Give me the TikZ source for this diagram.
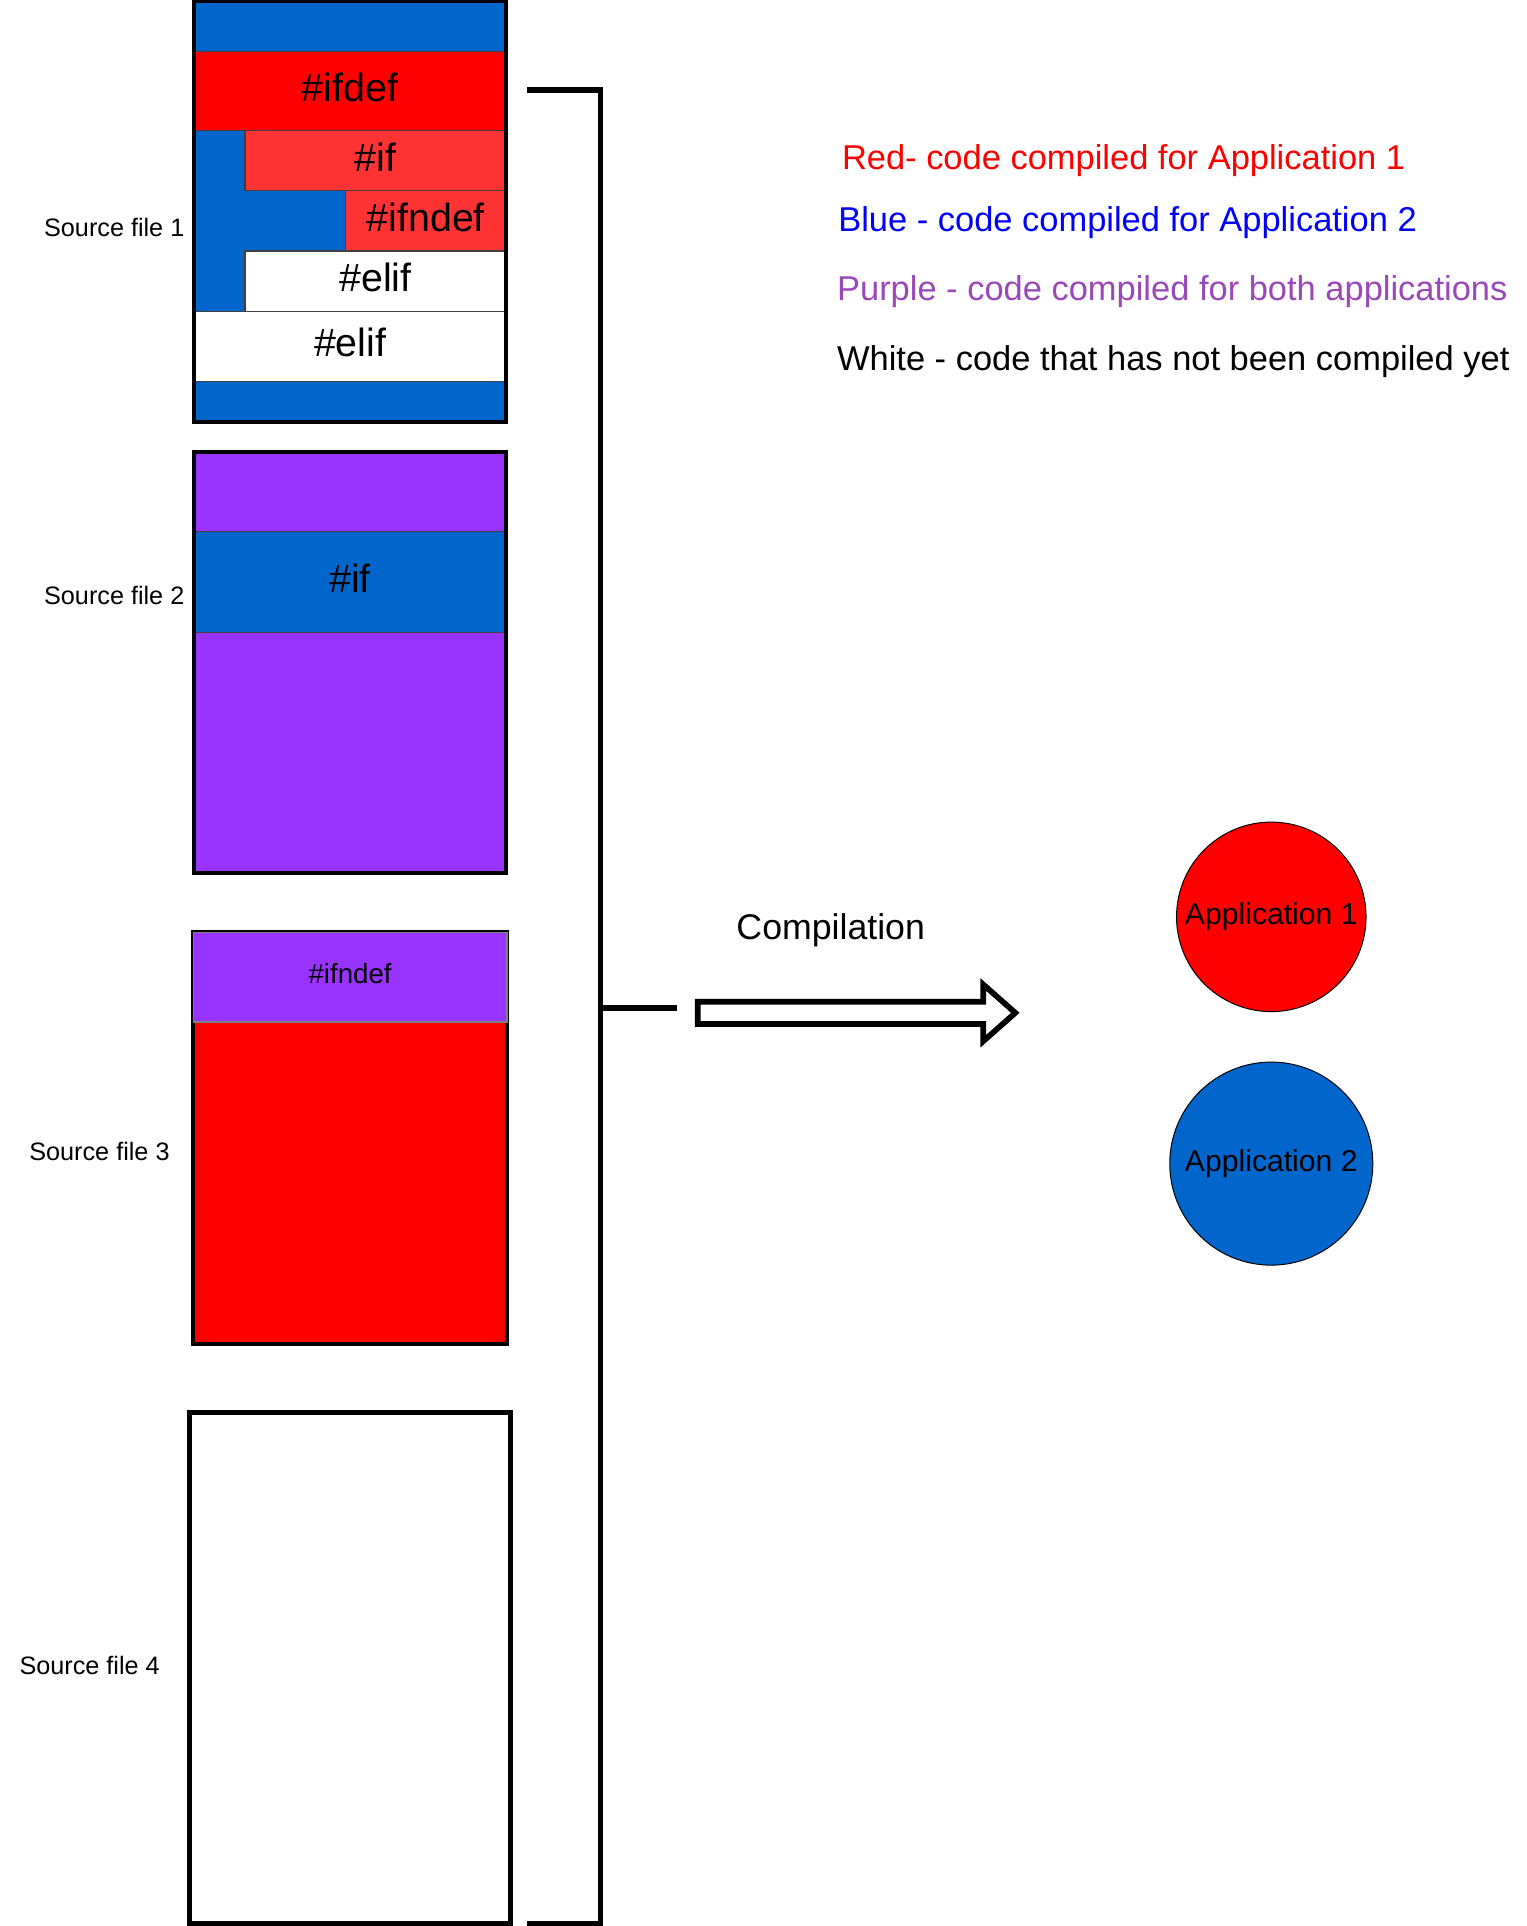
\documentclass[tikz,border=0pt]{standalone}
\usepackage{fontspec}
\setmainfont{Liberation Sans}
\newcommand\fsz[1]{\fontsize{#1}{#1}\selectfont}
\definecolor{cblue}{HTML}{0066CC}
\definecolor{cred}{HTML}{FF0000}
\definecolor{clred}{HTML}{FF3333}
\definecolor{cpurple}{HTML}{9933FF}
\definecolor{tpurple}{HTML}{9A48B8}
\definecolor{tblue}{HTML}{0000FF}
\begin{document}
\begin{tikzpicture}[x=1pt,y=-1pt,
  seg/.style={draw=black!75,line width=1pt,inner sep=0pt,outer sep=0pt},
  filebox/.style={draw=black,line width=3.2pt,inner sep=0pt,outer sep=0pt},
  big/.style={font=\fsz{32},yshift=3pt},
  srclabel/.style={font=\fsz{20.5},anchor=east,inner sep=0pt},
  legend/.style={font=\fsz{28},anchor=west,inner sep=0pt},
  app/.style={circle,draw=black,line width=0.8pt,inner sep=0pt,font=\fsz{24.5}},
  bracket/.style={line width=4.6pt},
]
\useasboundingbox (0,0) rectangle (1240,1565);

% ---------- Source file 1 ----------
\path[fill=cblue] (158,1) rectangle (411,343);
\node[seg,fill=cred,minimum width=253pt,minimum height=64pt] (ifdef) at (284.5,74) {};
\node[big] (tifdef) at (ifdef) {\#ifdef};
\node[seg,fill=clred,minimum width=212pt,minimum height=49pt] (if1) at (305,130.5) {};
\node[big] (tif1) at (if1) {\#if};
\node[seg,fill=clred,minimum width=130pt,minimum height=49pt] (ifndef1) at (346,179.5) {};
\node[big] (tifndef1) at (ifndef1) {\#ifndef};
\node[seg,fill=white,minimum width=212pt,minimum height=49pt] (elif1) at (305,228.5) {};
\node[big] (telif1) at (elif1) {\#elif};
\node[seg,fill=white,minimum width=253pt,minimum height=57pt] (elif2) at (284.5,281.5) {};
\node[big] (telif2) at (elif2) {\#elif};
\node[filebox,minimum width=253pt,minimum height=342pt] (f1) at (284.5,172) {};
\node[srclabel] (l1) at (150,185) {Source file 1};

% ---------- Source file 2 ----------
\node[filebox,fill=cpurple,minimum width=253pt,minimum height=342pt] (f2) at (284.5,538) {};
\node[seg,fill=cblue,minimum width=252pt,minimum height=82pt] (if2) at (284.5,473) {};
\node[big] (tif2) at (if2) {\#if};
\draw[line width=3.2pt] (f2.north west) rectangle (f2.south east);
\node[srclabel] (l2) at (150,484) {Source file 2};

% ---------- Source file 3 ----------
\node[filebox,fill=cred,minimum width=255pt,minimum height=335pt] (f3) at (284.5,924.5) {};
\node[seg,draw=black!50,fill=cpurple,minimum width=255pt,minimum height=73pt] (ifndef3) at (284.5,794) {};
\node[font=\fsz{22.5},yshift=2.5pt] (tifndef3) at (ifndef3) {\#ifndef};
\node[srclabel] (l3) at (138,936) {Source file 3};

% ---------- Source file 4 ----------
\node[filebox,line width=4pt,minimum width=261pt,minimum height=415pt] (f4) at (284.5,1355.5) {};
\node[srclabel] (l4) at (130,1353) {Source file 4};

% ---------- bracket ----------
\coordinate (bt) at (428,73);
\coordinate (bb) at (428,1563);
\coordinate (bm) at (488,819);
\coordinate (bs) at (550,819);
\draw[bracket] (bt) -| (bm) |- (bb);
\draw[bracket] (bm) -- (bs);

% ---------- compilation arrow ----------
\node[font=\fsz{29}] (comp) at (675,756) {Compilation};
\draw[line width=4.6pt,line join=miter,fill=white]
  (567,814) -- (799,814) -- (799,800) -- (825,823) -- (799,846) -- (799,832) -- (567,832) -- cycle;

% ---------- applications ----------
\node[app,fill=cred,minimum size=154pt] (app1) at (1033,745) {Application 1};
\node[app,fill=cblue,minimum size=165pt] (app2) at (1033,945.5) {Application 2};

% ---------- legend ----------
\node[legend,text=cred] (lg1) at (684,130.5) {Red- code compiled for Application 1};
\node[legend,text=tblue] (lg2) at (681,180.5) {Blue - code compiled for Application 2};
\node[legend,text=tpurple] (lg3) at (680,237) {Purple - code compiled for both applications};
\node[legend,text=black] (lg4) at (680,294) {White - code that has not been compiled yet};
\end{tikzpicture}
\end{document}
